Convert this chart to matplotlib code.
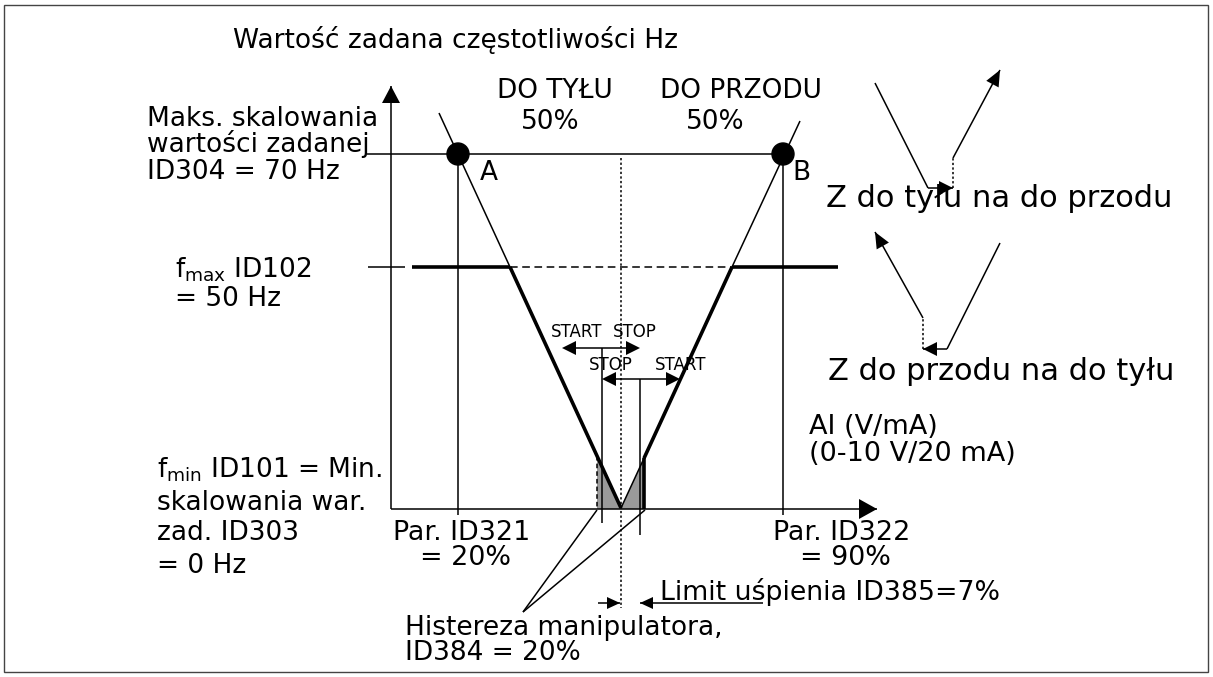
import numpy as np
import matplotlib.pyplot as plt
from matplotlib.patches import Polygon, Circle, Rectangle

# --- geometria schematu (jednostki rysunku = piksele obrazu) ---
W, H = 1213, 677
origin = (391, 509)            # przecięcie osi
x_axis_end = 877
y_axis_end = 86
y_70hz = 154                   # maks. skalowania wartości zadanej
y_fmax = 267                   # f_max
x_A, x_B = 458, 783            # ID321 = 20 %, ID322 = 90 %
x_mid = 621                    # środek (dno V)
v_left_top = (439, 113)
v_right_top = (800, 121)
v_bottom = (621, 508)
x_hyst_left, x_hyst_right = 597, 644   # histereza manipulatora
x_fmax_left, x_fmax_right = 510, 732
x_stop_left, x_stop_right = 602, 640

# teksty: (tekst, x, linia bazowa, rozmiar, wyrównanie)
labels = [
    ("Wartość zadana częstotliwości Hz", 233, 48, 19, 'left'),
    ("DO TYŁU", 555, 98, 19, 'center'),
    ("50%", 550, 129, 19, 'center'),
    ("DO PRZODU", 741, 98, 19, 'center'),
    ("50%", 715, 129, 19, 'center'),
]
# (linie, x, linie bazowe, rozmiar)
left_blocks = [
    (["Maks. skalowania", "wartości zadanej", "ID304 = 70 Hz"], 147, [126, 152, 179], 19),
    ([r"f$_{\mathregular{max}}$ ID102", "= 50 Hz"], 175, [277, 306], 19),
    ([r"f$_{\mathregular{min}}$ ID101 = Min.", "skalowania war.", "zad. ID303", "= 0 Hz"],
     157, [478, 510, 540, 573], 19),
    (["A"], 480, [180], 19),
    (["B"], 792, [180], 19),
    (["Z do tyłu na do przodu"], 826, [207], 22),
    (["Z do przodu na do tyłu"], 828, [380], 22),
    (["AI (V/mA)", "(0-10 V/20 mA)"], 809, [434, 461], 19.5),
    (["Par. ID321"], 393, [540], 19.4),
    (["= 20%"], 420, [565], 19.4),
    (["Par. ID322"], 773, [540], 19.4),
    (["= 90%"], 800, [565], 19.4),
    (["Limit uśpienia ID385=7%"], 660, [600], 19.3),
    (["Histereza manipulatora,", "ID384 = 20%"], 405, [635, 660], 19),
]
small_labels = [("START", 551, 337), ("STOP", 613, 337),
                ("STOP", 589, 370), ("START", 655, 370)]

THIN, THICK = 1.1, 2.6
K = 'black'

fig = plt.figure(figsize=(W / 100, H / 100), dpi=100)
ax = fig.add_axes([0, 0, 1, 1])
ax.set_xlim(0, W)
ax.set_ylim(H, 0)
ax.axis('off')


def line(xs, ys, lw=THIN, ls='-', **kw):
    ax.plot(xs, ys, color=K, lw=lw, ls=ls, solid_capstyle='butt', **kw)


def head(tip, frm, length=17, width=17):
    tip = np.array(tip, float)
    d = tip - np.array(frm, float)
    d /= np.hypot(*d)
    n = np.array([-d[1], d[0]])
    base = tip - d * length
    ax.add_patch(Polygon([tip, base + n * width / 2, base - n * width / 2],
                         closed=True, color=K, lw=0))


def arrow(frm, tip, length=17, width=17, **kw):
    line([frm[0], tip[0]], [frm[1], tip[1]], **kw)
    head(tip, frm, length, width)


def v_right_y(x):
    (x0, y0), (x1, y1) = v_bottom, v_right_top
    return y0 + (x - x0) * (y1 - y0) / (x1 - x0)


def v_left_y(x):
    (x0, y0), (x1, y1) = v_left_top, v_bottom
    return y0 + (x - x0) * (y1 - y0) / (x1 - x0)


# ramka
ax.add_patch(Rectangle((4, 5), 1204, 667, fill=False, ec='#444444', lw=1.0))

# szare pola histerezy
ox, oy = origin
ax.add_patch(Polygon([(x_hyst_left, oy), (x_hyst_left, v_left_y(x_hyst_left)),
                      v_bottom, (x_mid, oy)], closed=True, fc='#9a9a9a', lw=0))
ax.add_patch(Polygon([(x_mid, oy), v_bottom, (x_hyst_right, v_right_y(x_hyst_right)),
                      (x_hyst_right, oy)], closed=True, fc='#9a9a9a', lw=0))
line([x_hyst_left, x_hyst_left], [v_left_y(x_hyst_left), oy], ls=(0, (3, 2)))
line([x_hyst_right, x_hyst_right], [v_right_y(x_hyst_right), oy], lw=THICK)

# osie
arrow((ox, oy), (ox, y_axis_end), length=17, width=18)
arrow((ox, oy), (x_axis_end, oy), length=18, width=20)

# linia 70 Hz i punkty A, B
line([367, x_B], [y_70hz, y_70hz])
for xp in (x_A, x_B):
    line([xp, xp], [y_70hz, oy + 6])
    ax.add_patch(Circle((xp, y_70hz), 11, color=K, zorder=5))

# linia środkowa
line([x_mid, x_mid], [158, 608], ls=(0, (1.5, 1.5)))

# f_max
line([368, 405], [y_fmax, y_fmax])
line([412, x_fmax_left], [y_fmax, y_fmax], lw=THICK)
line([x_fmax_left, x_fmax_right], [y_fmax, y_fmax], ls=(0, (5, 3)))
line([x_fmax_right, 838], [y_fmax, y_fmax], lw=THICK)

# charakterystyka V
line([v_left_top[0], x_fmax_left], [v_left_top[1], y_fmax])
line([x_fmax_left, v_bottom[0]], [y_fmax, v_bottom[1]], lw=THICK)
line([v_bottom[0], x_hyst_right], [v_bottom[1], v_right_y(x_hyst_right)])
line([x_hyst_right, x_fmax_right], [v_right_y(x_hyst_right), y_fmax], lw=THICK)
line([x_fmax_right, v_right_top[0]], [y_fmax, v_right_top[1]])

# START / STOP
for y_arr, x0, x1 in ((348, 562, 640), (379, 602, 680)):
    line([x0 + 10, x1 - 10], [y_arr, y_arr])
    head((x0, y_arr), (x1, y_arr), 14, 14)
    head((x1, y_arr), (x0, y_arr), 14, 14)
line([x_stop_left, x_stop_left], [348, 523])
line([x_stop_right, x_stop_right], [379, 535])

# histereza - linie odniesienia
line([523, x_hyst_left], [612, oy + 1])
line([523, x_hyst_right + 1], [612, oy + 1])

# limit uśpienia
arrow((598, 603), (620, 603), 13, 12)
arrow((763, 603), (640, 603), 13, 12)

# ikony po prawej
line([875, 928], [83, 188])
arrow((928, 188), (953, 188), 14, 14)
line([953, 953], [188, 158], ls=(0, (1.5, 1.5)))
arrow((953, 158), (1000, 70), 16, 14)

line([1000, 947], [243, 349])
arrow((947, 349), (923, 349), 14, 14)
line([923, 923], [349, 318], ls=(0, (1.5, 1.5)))
arrow((923, 318), (875, 232), 16, 14)

# teksty
for txt, x, y, fs, ha in labels:
    ax.text(x, y, txt, fontsize=fs, ha=ha, va='baseline', family='DejaVu Sans')
for lines_, x, ys, fs in left_blocks:
    for t, y in zip(lines_, ys):
        ax.text(x, y, t, fontsize=fs, ha='left', va='baseline', family='DejaVu Sans')
for txt, x, y in small_labels:
    ax.text(x, y, txt, fontsize=12, ha='left', va='baseline', family='DejaVu Sans')

fig.savefig('out.png', dpi=100)
